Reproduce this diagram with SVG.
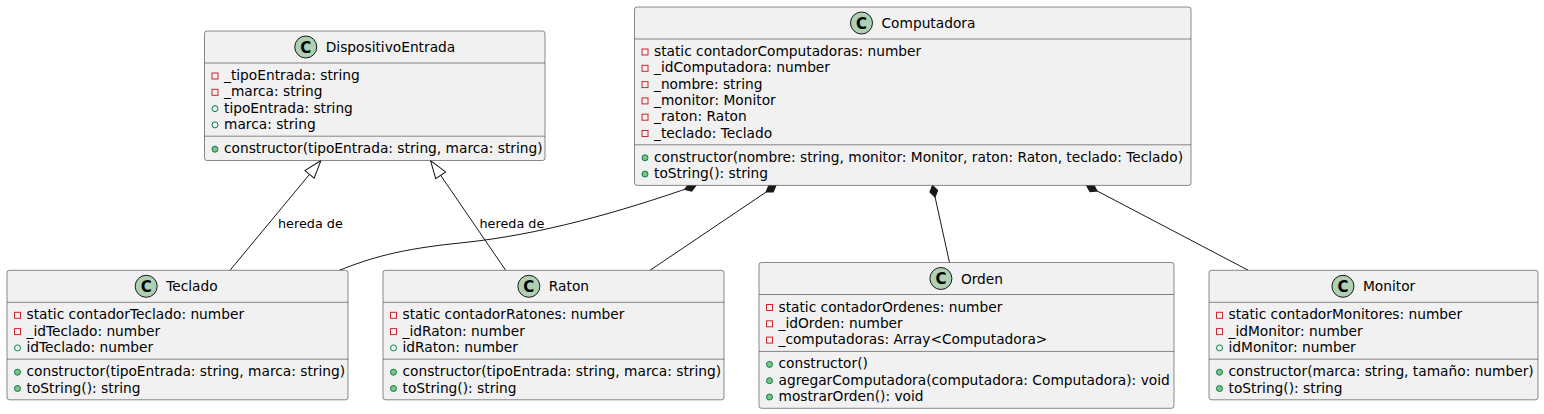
<svg xmlns="http://www.w3.org/2000/svg" width="1544" height="414" viewBox="0 0 1544 414">
<style>
.box{fill:#F1F1F1;stroke:#181818;stroke-width:0.5}
.div{stroke:#181818;stroke-width:0.5}
.ic{fill:#ADD1B2;stroke:#181818;stroke-width:1}
.cl{font-family:"DejaVu Sans",sans-serif;font-size:15px;font-weight:bold;fill:#000;text-anchor:middle}
.t{font-family:"DejaVu Sans",sans-serif;font-size:13.75px;fill:#000}
.lbl{font-family:"DejaVu Sans",sans-serif;font-size:12.8px;fill:#000}
.pv{fill:none;stroke:#C82930;stroke-width:1}
.pf{fill:none;stroke:#038048;stroke-width:1}
.pm{fill:#84BE84;stroke:#038048;stroke-width:1}
.e{fill:none;stroke:#181818;stroke-width:1}
</style>
<defs>
<marker id="ext" markerUnits="userSpaceOnUse" orient="auto" overflow="visible" markerWidth="20" markerHeight="14" refX="0" refY="0">
<path d="M0,0 L-18,-6 L-18,6 Z" fill="#FFFFFF" stroke="#181818" stroke-width="1"/>
</marker>
<marker id="comp" markerUnits="userSpaceOnUse" orient="auto" overflow="visible" markerWidth="14" markerHeight="10" refX="0" refY="0">
<path d="M0,0 L6,-4 L12,0 L6,4 Z" fill="#181818" stroke="#181818" stroke-width="1"/>
</marker>
</defs>

<g id="connectors">
<path class="e" d="M230,270.3 L321,160.5" marker-end="url(#ext)"/>
<path class="e" d="M505.7,270.3 L430.5,160.5" marker-end="url(#ext)"/>
<text class="lbl" x="278" y="227.5">hereda de</text>
<text class="lbl" x="479.5" y="227.5">hereda de</text>
<path class="e" d="M696,185.4 C620,212 540,235 460,243 C400,249 370,258 339.5,270.3" marker-start="url(#comp)"/>
<path class="e" d="M776,185.4 L650,270.3" marker-start="url(#comp)"/>
<path class="e" d="M932.5,185.4 L949.5,262.5" marker-start="url(#comp)"/>
<path class="e" d="M1086.5,185.4 L1248.3,270.3" marker-start="url(#comp)"/>
</g>

<g id="DispositivoEntrada">
<rect class="box" x="204.5" y="31" width="340.5" height="129.5" rx="2.5" ry="2.5"/>
<circle class="ic" cx="305.75" cy="47" r="11"/>
<text class="cl" x="305.75" y="52.5">C</text>
<text class="t" x="325.75" y="52">DispositivoEntrada</text>
<line class="div" x1="204.5" y1="63" x2="545" y2="63"/>
<rect class="pv" x="212" y="73" width="6" height="6"/><text class="t" x="224" y="80">_tipoEntrada: string</text>
<rect class="pv" x="212" y="89.3" width="6" height="6"/><text class="t" x="224" y="96.3">_marca: string</text>
<circle class="pf" cx="215" cy="108.6" r="3"/><text class="t" x="224" y="112.6">tipoEntrada: string</text>
<circle class="pf" cx="215" cy="124.9" r="3"/><text class="t" x="224" y="128.9">marca: string</text>
<line class="div" x1="204.5" y1="136.2" x2="545" y2="136.2"/>
<circle class="pm" cx="215" cy="149.2" r="3"/><text class="t" x="224" y="153.2">constructor(tipoEntrada: string, marca: string)</text>
</g>

<g id="Computadora">
<rect class="box" x="634.5" y="7" width="556.5" height="178.4" rx="2.5" ry="2.5"/>
<circle class="ic" cx="861.5" cy="23" r="11"/>
<text class="cl" x="861.5" y="28.5">C</text>
<text class="t" x="881.5" y="28">Computadora</text>
<line class="div" x1="634.5" y1="39" x2="1191" y2="39"/>
<rect class="pv" x="642" y="49" width="6" height="6"/><text class="t" x="654" y="56">static contadorComputadoras: number</text>
<rect class="pv" x="642" y="65.3" width="6" height="6"/><text class="t" x="654" y="72.3">_idComputadora: number</text>
<rect class="pv" x="642" y="81.6" width="6" height="6"/><text class="t" x="654" y="88.6">_nombre: string</text>
<rect class="pv" x="642" y="97.9" width="6" height="6"/><text class="t" x="654" y="104.9">_monitor: Monitor</text>
<rect class="pv" x="642" y="114.2" width="6" height="6"/><text class="t" x="654" y="121.2">_raton: Raton</text>
<rect class="pv" x="642" y="130.5" width="6" height="6"/><text class="t" x="654" y="137.5">_teclado: Teclado</text>
<line class="div" x1="634.5" y1="144.8" x2="1191" y2="144.8"/>
<circle class="pm" cx="645" cy="157.8" r="3"/><text class="t" x="654" y="161.8">constructor(nombre: string, monitor: Monitor, raton: Raton, teclado: Teclado)</text>
<circle class="pm" cx="645" cy="174.1" r="3"/><text class="t" x="654" y="178.1">toString(): string</text>
</g>

<g id="Teclado">
<rect class="box" x="7" y="270.3" width="341" height="129.5" rx="2.5" ry="2.5"/>
<circle class="ic" cx="146.2" cy="286.3" r="11"/>
<text class="cl" x="146.2" y="291.8">C</text>
<text class="t" x="166.2" y="291.3">Teclado</text>
<line class="div" x1="7" y1="302.3" x2="348" y2="302.3"/>
<rect class="pv" x="14.5" y="312.3" width="6" height="6"/><text class="t" x="26.5" y="319.3">static contadorTeclado: number</text>
<rect class="pv" x="14.5" y="328.6" width="6" height="6"/><text class="t" x="26.5" y="335.6">_idTeclado: number</text>
<circle class="pf" cx="17.5" cy="347.9" r="3"/><text class="t" x="26.5" y="351.9">idTeclado: number</text>
<line class="div" x1="7" y1="359.2" x2="348" y2="359.2"/>
<circle class="pm" cx="17.5" cy="372.2" r="3"/><text class="t" x="26.5" y="376.2">constructor(tipoEntrada: string, marca: string)</text>
<circle class="pm" cx="17.5" cy="388.5" r="3"/><text class="t" x="26.5" y="392.5">toString(): string</text>
</g>

<g id="Raton">
<rect class="box" x="383" y="270.3" width="341" height="129.5" rx="2.5" ry="2.5"/>
<circle class="ic" cx="528.85" cy="286.3" r="11"/>
<text class="cl" x="528.85" y="291.8">C</text>
<text class="t" x="548.85" y="291.3">Raton</text>
<line class="div" x1="383" y1="302.3" x2="724" y2="302.3"/>
<rect class="pv" x="390.5" y="312.3" width="6" height="6"/><text class="t" x="402.5" y="319.3">static contadorRatones: number</text>
<rect class="pv" x="390.5" y="328.6" width="6" height="6"/><text class="t" x="402.5" y="335.6">_idRaton: number</text>
<circle class="pf" cx="393.5" cy="347.9" r="3"/><text class="t" x="402.5" y="351.9">idRaton: number</text>
<line class="div" x1="383" y1="359.2" x2="724" y2="359.2"/>
<circle class="pm" cx="393.5" cy="372.2" r="3"/><text class="t" x="402.5" y="376.2">constructor(tipoEntrada: string, marca: string)</text>
<circle class="pm" cx="393.5" cy="388.5" r="3"/><text class="t" x="402.5" y="392.5">toString(): string</text>
</g>

<g id="Orden">
<rect class="box" x="759" y="262.5" width="415" height="145.8" rx="2.5" ry="2.5"/>
<circle class="ic" cx="940.9" cy="278.5" r="11"/>
<text class="cl" x="940.9" y="284">C</text>
<text class="t" x="960.9" y="283.5">Orden</text>
<line class="div" x1="759" y1="294.5" x2="1174" y2="294.5"/>
<rect class="pv" x="766.5" y="304.5" width="6" height="6"/><text class="t" x="778.5" y="311.5">static contadorOrdenes: number</text>
<rect class="pv" x="766.5" y="320.8" width="6" height="6"/><text class="t" x="778.5" y="327.8">_idOrden: number</text>
<rect class="pv" x="766.5" y="337.1" width="6" height="6"/><text class="t" x="778.5" y="344.1">_computadoras: Array&lt;Computadora&gt;</text>
<line class="div" x1="759" y1="351.4" x2="1174" y2="351.4"/>
<circle class="pm" cx="769.5" cy="364.4" r="3"/><text class="t" x="778.5" y="368.4">constructor()</text>
<circle class="pm" cx="769.5" cy="380.7" r="3"/><text class="t" x="778.5" y="384.7">agregarComputadora(computadora: Computadora): void</text>
<circle class="pm" cx="769.5" cy="397" r="3"/><text class="t" x="778.5" y="401">mostrarOrden(): void</text>
</g>

<g id="Monitor">
<rect class="box" x="1209" y="270.3" width="329" height="129.5" rx="2.5" ry="2.5"/>
<circle class="ic" cx="1342.95" cy="286.3" r="11"/>
<text class="cl" x="1342.95" y="291.8">C</text>
<text class="t" x="1362.95" y="291.3">Monitor</text>
<line class="div" x1="1209" y1="302.3" x2="1538" y2="302.3"/>
<rect class="pv" x="1216.5" y="312.3" width="6" height="6"/><text class="t" x="1228.5" y="319.3">static contadorMonitores: number</text>
<rect class="pv" x="1216.5" y="328.6" width="6" height="6"/><text class="t" x="1228.5" y="335.6">_idMonitor: number</text>
<circle class="pf" cx="1219.5" cy="347.9" r="3"/><text class="t" x="1228.5" y="351.9">idMonitor: number</text>
<line class="div" x1="1209" y1="359.2" x2="1538" y2="359.2"/>
<circle class="pm" cx="1219.5" cy="372.2" r="3"/><text class="t" x="1228.5" y="376.2">constructor(marca: string, tamaño: number)</text>
<circle class="pm" cx="1219.5" cy="388.5" r="3"/><text class="t" x="1228.5" y="392.5">toString(): string</text>
</g>
</svg>
